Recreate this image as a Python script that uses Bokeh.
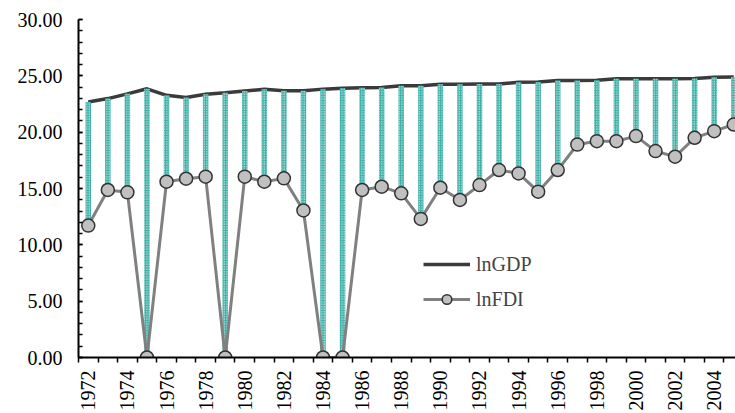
from bokeh.plotting import figure
from bokeh.models import Range1d, FixedTicker, SingleIntervalTicker, PrintfTickFormatter, Legend, LegendItem
from bokeh.embed import file_html
from bokeh.resources import INLINE
import math

years = list(range(1972, 2006))
ln_gdp = [22.68, 22.98, 23.40, 23.85, 23.27, 23.07, 23.36, 23.50, 23.65, 23.80, 23.68, 23.68,
          23.82, 23.90, 23.94, 23.96, 24.13, 24.13, 24.25, 24.25, 24.27, 24.28, 24.42, 24.45,
          24.58, 24.58, 24.60, 24.74, 24.75, 24.75, 24.75, 24.76, 24.88, 24.90]
ln_fdi = [11.71, 14.87, 14.66, 0.0, 15.60, 15.87, 16.05, 0.0, 16.05, 15.60, 15.90, 13.05,
          0.0, 0.0, 14.87, 15.16, 14.57, 12.30, 15.07, 13.98, 15.30, 16.64, 16.34, 14.72,
          16.64, 18.90, 19.20, 19.20, 19.65, 18.32, 17.82, 19.50, 20.09, 20.68]
label_years = list(range(1972, 2006, 2))
boundaries = [y - 0.5 for y in range(1972, 2007)]

FONT = "Liberation Serif"

p = figure(width=735, height=413, output_backend="svg", toolbar_location=None,
           x_range=Range1d(1971.5, 1971.5 + 657 / 19.56), y_range=Range1d(0, 30),
           min_border_left=78, min_border_right=0, min_border_top=19, min_border_bottom=55)
p.outline_line_color = None
p.xgrid.visible = False
p.ygrid.visible = False

gdp_line = p.line(years, ln_gdp, line_color="#3a3a3a", line_width=3.5)
p.vbar(x=years, bottom=ln_fdi, top=ln_gdp, width=0.28, fill_color="#3fb0a8", line_color=None,
       hatch_pattern="dot", hatch_color="white", hatch_scale=2.5, hatch_weight=1.2, hatch_alpha=1.0)
fdi_line = p.line(years, ln_fdi, line_color="#808080", line_width=3)
fdi_pts = p.scatter(years, ln_fdi, size=13, fill_color="#c0c0c0", line_color="#333333", line_width=1.5)

# y axis
ya = p.yaxis[0]
ya.ticker = SingleIntervalTicker(interval=5, num_minor_ticks=5)
ya.formatter = PrintfTickFormatter(format="%.2f")
ya.major_label_text_font = FONT
ya.major_label_text_font_size = "20px"
ya.major_label_text_color = "black"
ya.axis_line_color = "black"
ya.axis_line_width = 2
ya.major_tick_in = 4
ya.major_tick_out = 0
ya.minor_tick_in = 4
ya.minor_tick_out = 0
ya.major_tick_line_color = "black"
ya.minor_tick_line_color = "black"
ya.major_tick_line_width = 1.5
ya.minor_tick_line_width = 1.5
ya.major_label_standoff = 16

# x axis
xa = p.xaxis[0]
xa.ticker = FixedTicker(ticks=label_years, minor_ticks=boundaries)
xa.major_label_overrides = {y: str(y) for y in label_years}
xa.major_label_orientation = math.pi / 2
xa.major_label_text_font = FONT
xa.major_label_text_font_size = "20px"
xa.major_label_text_color = "black"
xa.axis_line_color = "black"
xa.axis_line_width = 2
xa.major_tick_in = 0
xa.major_tick_out = 0
xa.minor_tick_in = 0
xa.minor_tick_out = 5
xa.minor_tick_line_color = "black"
xa.minor_tick_line_width = 1.5
xa.major_label_standoff = 8

legend = Legend(items=[LegendItem(label="lnGDP", renderers=[gdp_line]),
                       LegendItem(label="lnFDI", renderers=[fdi_line, fdi_pts])],
                location=(345, 46), border_line_color=None, background_fill_alpha=0,
                padding=0, margin=0, glyph_width=47, glyph_height=24, spacing=11,
                label_standoff=6, label_text_font=FONT, label_text_font_size="20px")
p.add_layout(legend, "center")

open("out.html", "w").write(file_html(p, INLINE))
